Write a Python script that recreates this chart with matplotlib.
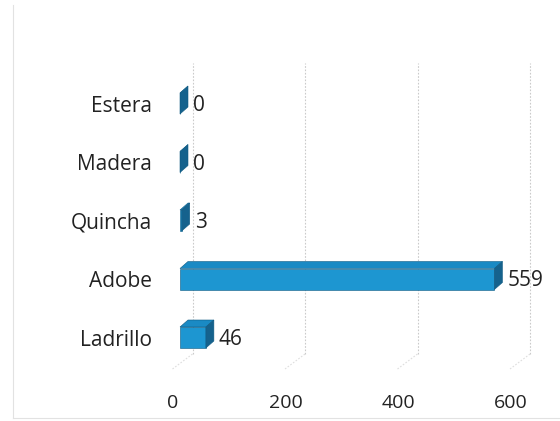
import matplotlib
matplotlib.use("Agg")
import matplotlib.pyplot as plt
from matplotlib.patches import Polygon
from matplotlib.lines import Line2D
from matplotlib.transforms import ScaledTranslation

categories = ["Ladrillo", "Adobe", "Quincha", "Madera", "Estera"]
values = [46, 559, 3, 0, 0]
xticks = [0, 200, 400, 600]
xtick_labels = ["0", "200", "400", "600"]

plt.rcParams['font.family'] = ['Open Sans', 'DejaVu Sans']
DPI = 100
fig = plt.figure(figsize=(5.6, 4.21), dpi=DPI)
W, H = 560, 421

# axes placement (pixels)
ax_l, ax_r, ax_t, ax_b = 180, 545, 40, 380
ax = fig.add_axes([ax_l / W, 1 - ax_b / H, (ax_r - ax_l) / W, (ax_b - ax_t) / H])
px_per_unit = 0.5625
row_px = 58.5
ax.set_xlim(0, (ax_r - ax_l) / px_per_unit)
y0 = 337.5
ax.set_ylim((y0 - ax_b) / row_px, (y0 - ax_t) / row_px)

for s in ax.spines.values():
    s.set_visible(False)

def dxp(p):
    return p / px_per_unit

def dyp(p):
    return p / row_px

front = '#1d96d1'
topc = '#1a8ac4'
side = '#15628d'
edge = '#0f5a82'
txt = '#222222'
h = dyp(21)
ddx, ddy = dxp(8), dyp(7)

# gridlines (back wall + floor)
for t in xticks:
    xb = t + dxp(12.5)
    ybot = (y0 - 354) / row_px
    ytop = (y0 - 63) / row_px
    ax.add_line(Line2D([xb, xb], [ybot, ytop], color='#cacaca', lw=0.8,
                       ls=(0, (1.5, 1.5)), zorder=1, clip_on=False))
    ax.add_line(Line2D([xb, xb - dxp(20)], [ybot, ybot - dyp(15)], color='#dedede',
                       lw=0.8, ls=(0, (1.5, 1.5)), zorder=1, clip_on=False))

ypos = list(range(len(categories)))
ax.barh(ypos, values, height=h, color=front, edgecolor=edge, linewidth=0.4, zorder=3)
for y, v in zip(ypos, values):
    yt = y + h / 2
    yb = y - h / 2
    ax.add_patch(Polygon([(0, yt), (v, yt), (v + ddx, yt + ddy), (ddx, yt + ddy)],
                         closed=True, facecolor=topc, edgecolor=edge, lw=0.4,
                         zorder=3, clip_on=False))
    ax.add_patch(Polygon([(v, yb), (v, yt), (v + ddx, yt + ddy), (v + ddx, yb + ddy)],
                         closed=True, facecolor=side, edgecolor=edge, lw=0.4,
                         zorder=3, clip_on=False))
    ax.text(v + ddx + dxp(5), y - dyp(2), str(v), ha='left', va='center',
            fontsize=15, color=txt, zorder=4, clip_on=False)

ax.set_yticks(ypos)
ax.set_yticklabels(categories)
ax.set_xticks(xticks)
ax.set_xticklabels(xtick_labels)
ax.tick_params(axis='y', length=0, pad=20, labelsize=15, labelcolor=txt)
ax.tick_params(axis='x', length=0, pad=10, labelsize=14, labelcolor=txt)
off = ScaledTranslation(-7 / DPI, 0, fig.dpi_scale_trans)
for lab in ax.get_xticklabels():
    lab.set_transform(lab.get_transform() + off)

# faint chart frame
fig.add_artist(Line2D([13 / W, 13 / W], [1 - 418 / H, 1 - 5 / H], color='#e2e2e2', lw=0.8))
fig.add_artist(Line2D([13 / W, 1], [1 - 418 / H, 1 - 418 / H], color='#e2e2e2', lw=0.8))

fig.savefig("out.png", dpi=DPI, facecolor='white')
